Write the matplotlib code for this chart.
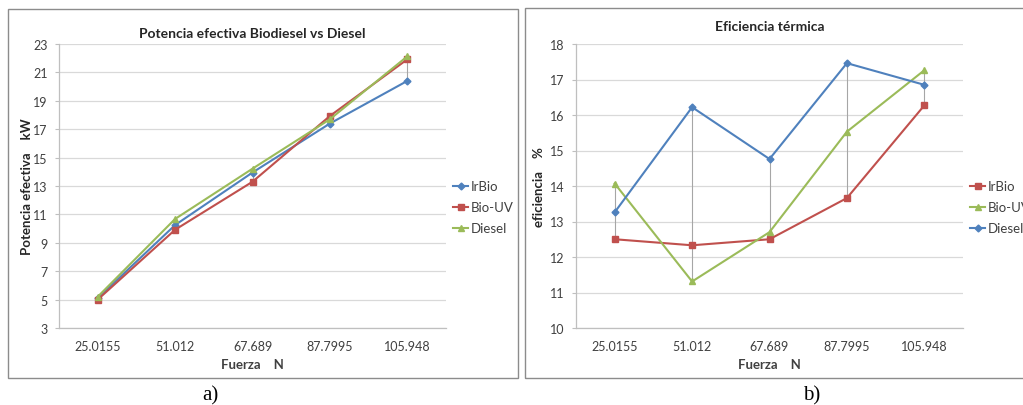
import matplotlib
matplotlib.use("Agg")
import matplotlib.pyplot as plt
from matplotlib.patches import Rectangle

# ---- data ----
categories = ["25.0155", "51.012", "67.689", "87.7995", "105.948"]

# Panel a) Potencia efectiva (kW)
pot_irbio = [5.1, 10.25, 13.95, 17.4, 20.4]
pot_biouv = [5.0, 9.92, 13.3, 17.93, 21.92]
pot_diesel = [5.2, 10.68, 14.22, 17.7, 22.13]

# Panel b) Eficiencia termica (%)
ef_irbio = [12.5, 12.33, 12.5, 13.66, 16.27]
ef_biouv = [14.07, 11.31, 12.7, 15.53, 17.26]
ef_diesel = [13.26, 16.22, 14.76, 17.46, 16.85]

BLUE = "#4F81BD"
RED = "#C0504D"
GREEN = "#9BBB59"

W, H = 1023, 406
fig = plt.figure(figsize=(W / 100, H / 100), dpi=100)
fig.patch.set_facecolor("white")

FONT = ["Lato", "DejaVu Sans"]


def px_axes(x0, y0, x1, y1):
    return fig.add_axes([x0 / W, 1 - y1 / H, (x1 - x0) / W, (y1 - y0) / H])


# panel frames
fig.patches.append(Rectangle((8 / W, 1 - 379 / H), (518 - 8) / W, (379 - 10) / H,
                             transform=fig.transFigure, fill=False,
                             edgecolor="#8c8c8c", lw=1.0))
fig.patches.append(Rectangle((525 / W, 1 - 379 / H), (1030 - 525) / W, (379 - 9) / H,
                             transform=fig.transFigure, fill=False,
                             edgecolor="#8c8c8c", lw=1.0))


def style_axes(ax, ylim, yticks):
    x = list(range(len(categories)))
    ax.set_xlim(-0.5, len(categories) - 0.5)
    ax.set_ylim(*ylim)
    ax.set_yticks(yticks)
    ax.set_xticks(x)
    ax.set_xticklabels(categories, fontsize=9, family=FONT, color="#404040")
    for lab in ax.get_yticklabels():
        lab.set_fontsize(9)
        lab.set_family(FONT)
        lab.set_color("#404040")
    ax.grid(axis="y", color="#d9d9d9", lw=0.9)
    ax.set_axisbelow(True)
    for s in ("top", "right"):
        ax.spines[s].set_visible(False)
    for s in ("left", "bottom"):
        ax.spines[s].set_color("#bfbfbf")
        ax.spines[s].set_linewidth(0.9)
    ax.tick_params(axis="both", length=3, color="#bfbfbf", pad=5)
    ax.tick_params(axis="x", length=0, pad=9)
    ax.set_xlabel("Fuerza    N", fontsize=9.5, fontweight="bold", family=FONT,
                  color="#404040", labelpad=4)


def add_legend(ax):
    leg = ax.legend(loc="center left", bbox_to_anchor=(0.995, 0.425), frameon=False,
                    handlelength=1.15, handletextpad=0.15, labelspacing=0.68,
                    borderaxespad=0.3, prop={"family": FONT, "size": 9.5})
    for t in leg.get_texts():
        t.set_color("#404040")
    return leg


x = list(range(len(categories)))

# ---- panel a ----
ax1 = px_axes(59, 45, 446, 329)
style_axes(ax1, (3, 23), list(range(3, 24, 2)))
lo = [min(a, b, c) for a, b, c in zip(pot_irbio, pot_biouv, pot_diesel)]
hi = [max(a, b, c) for a, b, c in zip(pot_irbio, pot_biouv, pot_diesel)]
ax1.vlines(x, lo, hi, color="#a6a6a6", lw=0.8, zorder=1)
ax1.plot(x, pot_irbio, color=BLUE, marker="D", ms=3.5, lw=1.5, label="IrBio", zorder=3)
ax1.plot(x, pot_biouv, color=RED, marker="s", ms=5, lw=1.5, label="Bio-UV", zorder=3)
ax1.plot(x, pot_diesel, color=GREEN, marker="^", ms=5, lw=1.5, label="Diesel", zorder=3)
ax1.set_title("Potencia efectiva Biodiesel vs Diesel", fontsize=10, fontweight="bold",
              family=FONT, color="#262626", pad=5)
ax1.set_ylabel("Potencia efectiva    kW", fontsize=9.5, fontweight="bold", family=FONT,
               color="#262626", labelpad=0)
add_legend(ax1)

# ---- panel b ----
ax2 = px_axes(576, 45, 963, 329)
style_axes(ax2, (10, 18), list(range(10, 19)))
lo = [min(a, b, c) for a, b, c in zip(ef_irbio, ef_biouv, ef_diesel)]
hi = [max(a, b, c) for a, b, c in zip(ef_irbio, ef_biouv, ef_diesel)]
ax2.vlines(x, lo, hi, color="#a6a6a6", lw=0.8, zorder=1)
ax2.plot(x, ef_irbio, color=RED, marker="s", ms=5, lw=1.5, label="IrBio", zorder=3)
ax2.plot(x, ef_biouv, color=GREEN, marker="^", ms=5, lw=1.5, label="Bio-UV", zorder=3)
ax2.plot(x, ef_diesel, color=BLUE, marker="D", ms=3.5, lw=1.5, label="Diesel", zorder=3)
ax2.set_title("Eficiencia térmica", fontsize=10, fontweight="bold",
              family=FONT, color="#262626", pad=10)
ax2.set_ylabel("eficiencia    %", fontsize=9.5, fontweight="bold", family=FONT,
               color="#262626", labelpad=4)
add_legend(ax2)

# panel captions
fig.text(210 / W, 1 - 396 / H, "a)", ha="center", va="center", fontsize=15,
         family=["Liberation Serif", "DejaVu Serif"])
fig.text(812 / W, 1 - 396 / H, "b)", ha="center", va="center", fontsize=15,
         family=["Liberation Serif", "DejaVu Serif"])

fig.savefig("out.png", dpi=100)
